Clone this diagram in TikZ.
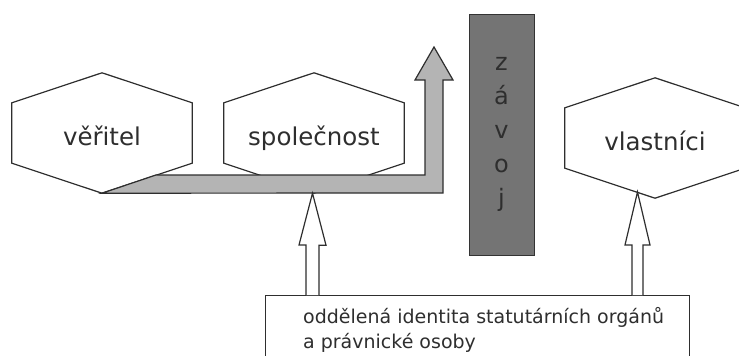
\documentclass[tikz,border=0pt]{standalone}
\usepackage{fontspec}
\setmainfont{DejaVu Sans}
\usepackage{xcolor}
\usetikzlibrary{positioning,calc}

\definecolor{inkgray}{HTML}{2E2E2E}
\definecolor{flowgray}{HTML}{B4B4B4}
\definecolor{veilgray}{HTML}{747474}

\newcommand{\hexoutline}[1]{%
  \draw[hexline] (#1.north west) -- ([yshift=30pt]#1.north) -- (#1.north east)
    -- (#1.south east) -- ([yshift=-30pt]#1.south) -- (#1.south west) -- cycle;}

\begin{document}
\begin{tikzpicture}[
    x=1pt, y=-1pt,
    hexa/.style={rectangle, minimum width=180pt, minimum height=60pt, inner sep=0pt, text=inkgray, font=\fontsize{24.5}{28}\selectfont, text height=24pt, text depth=0pt},
    hexline/.style={draw=inkgray, line width=1.2pt, line join=miter},
    veil/.style={rectangle, draw=black!80, line width=1pt, fill=veilgray, minimum width=65pt, minimum height=241pt, text=inkgray, align=center, font=\fontsize{24}{34}\selectfont},
    flow/.style={draw=inkgray, line width=1.2pt, fill=flowgray, line join=miter},
    hollow/.style={draw=inkgray, line width=1.2pt, fill=white, line join=miter},
    infobox/.style={rectangle, draw=inkgray, line width=1.2pt, anchor=north west, minimum width=424pt, minimum height=80pt},
    infotext/.style={anchor=north west, inner sep=0pt, align=left, text=inkgray, font=\fontsize{19}{25}\selectfont}
]
    \useasboundingbox (0,0) rectangle (739,356);

    % Parties
    \node [hexa] (veritel) at (102,133) {věřitel};
    \node [hexa] (spolecnost) at (314,133) {společnost};
    \node [hexa] (vlastnici) at (655,138) {vlastníci};
    \hexoutline{veritel}
    \hexoutline{spolecnost}
    \hexoutline{vlastnici}

    % Veil
    \node [veil] (zavoj) at (501.5,134.5) {z\\á\\v\\o\\j};

    % Identity box
    \node [infobox] (identita) at (265,295) {};
    \node [infotext] (identitatext) at ($(identita.north west)+(38,12)$) {oddělená identita statutárních orgánů\\a právnické osoby};

    % Bent flow from creditor
    \coordinate (vbot) at ([yshift=-30pt]veritel.south);
    \coordinate (tip) at (434,47);
    \draw [flow] (vbot) -- (443,193) -- (443,80) -- (453,80) -- (tip)
        -- (415,80) -- (425,80) -- (425,175) -- (156,175) -- cycle;

    % Hollow arrows
    \coordinate (s1) at ($(identita.north west)+(47.5,0)$);
    \coordinate (s2) at ($(identita.north west)+(372.5,0)$);
    \coordinate (t2) at (637.5,192);
    \draw [hollow] (s1) ++(-6.5,0) -- ++(0,-50) -- ++(-7,0) -- (s1 |- vbot)
        -- ++(13.5,52) -- ++(-7,0) -- ++(0,50);
    \draw [hollow] (s2) ++(-5.5,0) -- ++(0,-50) -- ++(-7,0) -- (t2)
        -- ++(12.5,53) -- ++(-7,0) -- ++(0,50);
\end{tikzpicture}
\end{document}
